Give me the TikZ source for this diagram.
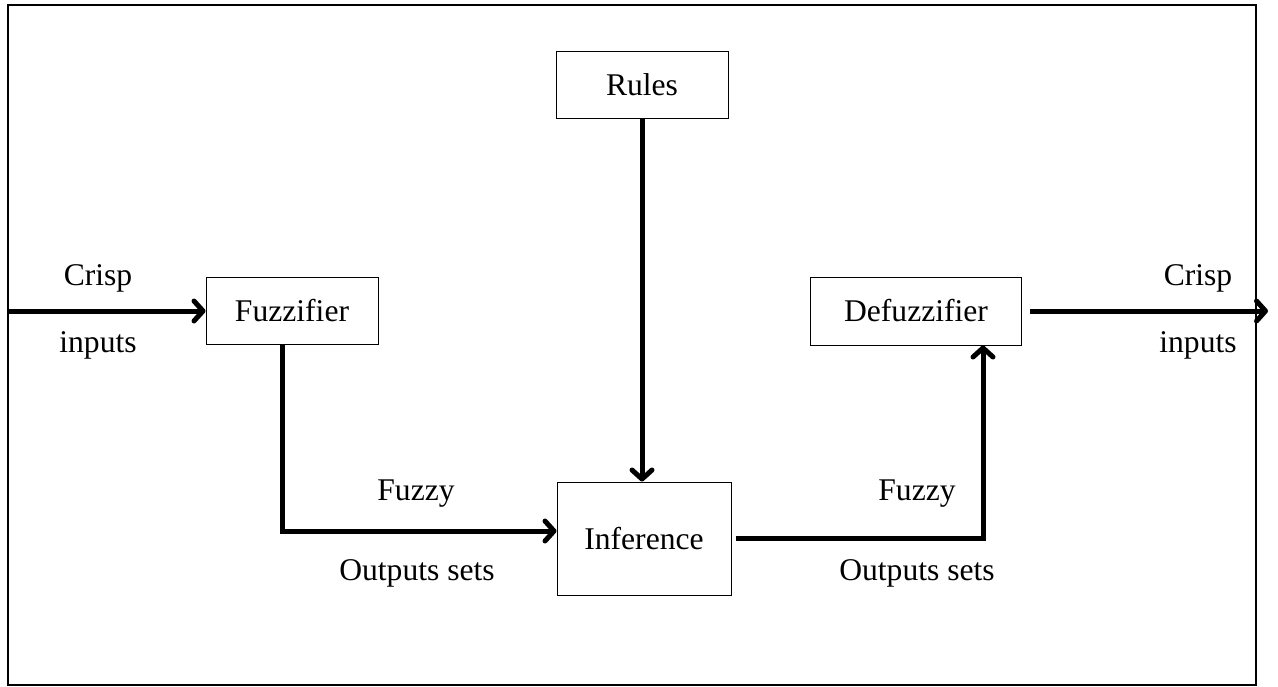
\documentclass[tikz,border=0pt]{standalone}
\usepackage{fontspec}
\setmainfont{Liberation Serif}
\usetikzlibrary{arrows.meta}
\begin{document}
\begin{tikzpicture}[x=0.5pt,y=-0.5pt,
  every node/.style={font=\fontsize{15.8pt}{19pt}\selectfont},
  box/.style={draw, line width=0.5pt, inner sep=0pt},
  flow/.style={line width=2.5pt, -{Straight Barb[length=4.5pt,width=10pt,round]}},
  lbl/.style={anchor=base, inner sep=0pt}]
\useasboundingbox (0,0) rectangle (1278,686);
\draw[line width=0.6pt] (8,5) rectangle (1256,685);
\node[box, minimum width=86pt, minimum height=33.5pt] (rules) at (642,85) {Rules};
\node[box, minimum width=86pt, minimum height=33.5pt] (fuzz) at (292,311) {Fuzzifier};
\node[box, minimum width=105.5pt, minimum height=34pt] (defuzz) at (916,311) {Defuzzifier};
\node[box, minimum width=87pt, minimum height=56.5pt] (inf) at (644,538.5) {Inference};
\coordinate (in) at (8,311);
\coordinate (out) at (1268,311);
\draw[flow] (in) -- (fuzz.west);
\draw[flow] ([xshift=-5pt]fuzz.south) |- ([yshift=3.75pt]inf.west);
\draw[flow] (rules.south) -- (rules.south |- inf.north);
\draw[flow, shorten <=2pt] (inf.east) -| ([xshift=33.5pt]defuzz.south);
\draw[flow, shorten <=4pt] (defuzz.east) -- (out);
\node[lbl] (l1) at (98,285) {Crisp};
\node[lbl] (l2) at (98,352) {inputs};
\node[lbl] (l3) at (416,500) {Fuzzy};
\node[lbl] (l4) at (417,580) {Outputs sets};
\node[lbl] (l5) at (917,500) {Fuzzy};
\node[lbl] (l6) at (917,580) {Outputs sets};
\node[lbl] (l7) at (1198,285) {Crisp};
\node[lbl] (l8) at (1198,352) {inputs};
\end{tikzpicture}
\end{document}
